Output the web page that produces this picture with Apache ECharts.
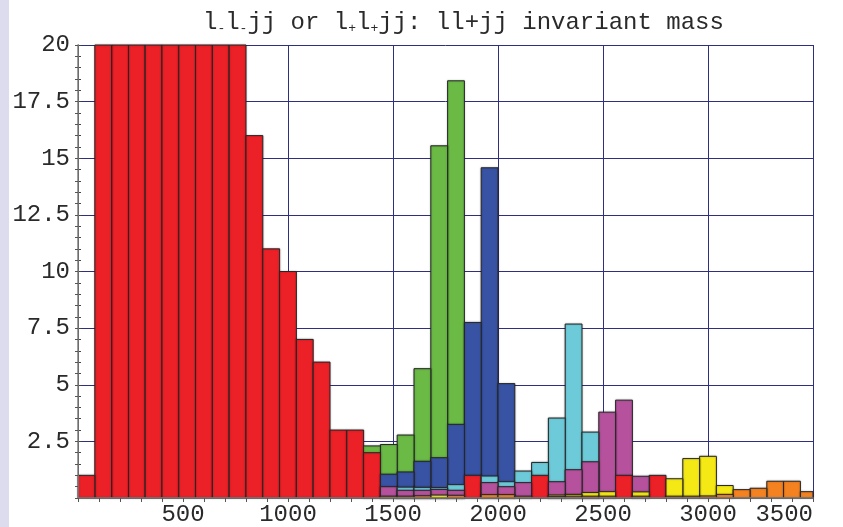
<!DOCTYPE html>
<html>
<head>
<meta charset="utf-8">
<script src="https://cdn.jsdelivr.net/npm/echarts@6/dist/echarts.min.js"></script>
<style>
  html, body { margin: 0; padding: 0; background: #ffffff; }
  #chart { width: 843px; height: 527px; }
</style>
</head>
<body>
<div id="chart"></div>
<script>
// Histogram bins: width 80, starting at 0
const binWidth = 80;
const binStarts = Array.from({ length: 44 }, (_, k) => k * binWidth);

// Counts per bin for each sample (index = bin number)
const background = [1, 38, 61, 70, 66, 55, 44, 34, 27, 21, 16, 11, 10, 7, 6, 3, 3, 2, 0, 0, 0, 0, 0, 1, 0, 0, 0, 1, 0, 0, 0, 0, 1, 0, 1, 0, 0, 0, 0, 0, 0, 0, 0, 0];
const mass1800   = [0, 0, 0, 0, 0, 0, 0, 0, 0, 0, 0, 0, 0, 0, 0, 0, 0, 2.3, 2.36, 2.78, 5.71, 15.55, 18.42, 0, 0, 0, 0, 0, 0, 0, 0, 0, 0, 0, 0, 0, 0, 0, 0, 0, 0, 0, 0, 0];
const mass2000   = [0, 0, 0, 0, 0, 0, 0, 0, 0, 0, 0, 0, 0, 0, 0, 0, 0, 0, 1.05, 1.15, 1.62, 1.78, 3.25, 7.75, 14.58, 5.05, 0, 0, 0, 0, 0, 0, 0, 0, 0, 0, 0, 0, 0, 0, 0, 0, 0, 0];
const mass2400   = [0, 0, 0, 0, 0, 0, 0, 0, 0, 0, 0, 0, 0, 0, 0, 0, 0, 0, 0, 0.48, 0.47, 0.46, 0.59, 0, 0.97, 0.72, 1.19, 1.57, 3.53, 7.68, 2.91, 0, 0, 0, 0, 0, 0, 0, 0, 0, 0, 0, 0, 0];
const mass2600   = [0, 0, 0, 0, 0, 0, 0, 0, 0, 0, 0, 0, 0, 0, 0, 0, 0, 0, 0.5, 0.34, 0.34, 0.38, 0.34, 0, 0.68, 0.5, 0.68, 0, 0.72, 1.25, 1.6, 3.79, 4.32, 0.96, 0, 0, 0, 0, 0, 0, 0, 0, 0, 0];
const mass3000   = [0, 0, 0, 0, 0, 0, 0, 0, 0, 0, 0, 0, 0, 0, 0, 0, 0, 0, 0, 0, 0, 0.13, 0, 0, 0, 0, 0, 0, 0.13, 0.16, 0.24, 0.28, 0, 0.27, 0, 0.85, 1.74, 1.84, 0.55, 0, 0, 0, 0, 0];
const mass3400   = [0, 0, 0, 0, 0, 0, 0, 0, 0, 0, 0, 0, 0, 0, 0, 0, 0, 0, 0.08, 0.08, 0.1, 0, 0.12, 0, 0.15, 0.15, 0.08, 0, 0.06, 0.08, 0.08, 0.08, 0, 0.08, 0, 0.08, 0.08, 0.09, 0.16, 0.37, 0.43, 0.74, 0.74, 0.28];

// Axis ticks
const xTicks = [0, 500, 1000, 1500, 2000, 2500, 3000, 3500];
const yTicks = [0, 2.5, 5, 7.5, 10, 12.5, 15, 17.5, 20];

const samples = [
  { name: 'background', values: background, color: '#ec2027' },
  { name: 'M1800', values: mass1800, color: '#6aba45' },
  { name: 'M2000', values: mass2000, color: '#3853a3' },
  { name: 'M2400', values: mass2400, color: '#6dcbd9' },
  { name: 'M2600', values: mass2600, color: '#b6529d' },
  { name: 'M3000', values: mass3000, color: '#f5e915' },
  { name: 'M3400', values: mass3400, color: '#f58220' }
];

const mono = '"Liberation Mono", "DejaVu Sans Mono", monospace';
const textColor = '#2a2a2a';

// Each bin's bars are overlaid from zero: the shorter one sits in front.
function makeRenderer(color) {
  return function (params, api) {
    const start = api.value(0);
    const v = api.value(1);
    if (!v) return null;
    const p0 = api.coord([start, 0]);
    const p1 = api.coord([start + binWidth, v]);
    const cs = params.coordSys;
    const rect = echarts.graphic.clipRectByRect(
      { x: p0[0], y: p1[1], width: p1[0] - p0[0], height: p0[1] - p1[1] },
      { x: cs.x, y: cs.y, width: cs.width, height: cs.height }
    );
    if (!rect) return null;
    return {
      type: 'rect',
      shape: rect,
      z2: 1000 - v * 10,
      style: {
        fill: color,
        stroke: '#262626',
        lineWidth: 1,
        shadowColor: 'rgba(0,0,0,0.25)',
        shadowBlur: 2
      }
    };
  };
}

const series = samples.map(s => ({
  type: 'custom',
  name: s.name,
  silent: true,
  xAxisIndex: 0,
  yAxisIndex: 0,
  encode: { x: 0, y: 1 },
  data: binStarts.map((b, i) => [b, s.values[i]]),
  renderItem: makeRenderer(s.color)
}));

const chart = echarts.init(document.getElementById('chart'), null, { renderer: 'canvas' });

chart.setOption({
  animation: false,
  backgroundColor: '#ffffff',
  title: {
    text: '{n|l}{s|-}{n|l}{s|-}{n|jj or l}{s|+}{n|l}{s|+}{n|jj: ll+jj invariant mass}',
    left: 198,
    top: 2,
    textStyle: {
      fontWeight: 'normal',
      rich: {
        n: { fontFamily: mono, fontSize: 24, fontWeight: 'normal', color: textColor, verticalAlign: 'bottom', lineHeight: 28 },
        s: { fontFamily: mono, fontSize: 13, fontWeight: 'normal', color: textColor, verticalAlign: 'bottom', lineHeight: 24 }
      }
    }
  },
  graphic: [
    { type: 'rect', left: 0, top: 0, shape: { width: 9, height: 527 }, style: { fill: '#dcdcee' }, silent: true }
  ],
  grid: { left: 78, right: 30, top: 45, bottom: 28, containLabel: false },
  xAxis: [
    {
      type: 'value',
      position: 'bottom',
      min: xTicks[0],
      max: xTicks[xTicks.length - 1],
      interval: 500,
      axisLine: { show: true, lineStyle: { color: '#333333', width: 1 } },
      axisTick: { show: false },
      axisLabel: {
        fontFamily: mono, fontSize: 24, color: textColor, margin: 5,
        alignMaxLabel: 'right',
        formatter: v => (v === 0 ? '' : String(v))
      },
      splitLine: { show: true, lineStyle: { color: '#2f2f80', width: 1 } }
    },
    {
      type: 'value',
      position: 'top',
      min: xTicks[0],
      max: xTicks[xTicks.length - 1],
      interval: 100,
      z: 10,
      axisLine: { show: true, lineStyle: { color: '#808080', width: 1.5 } },
      axisTick: { show: true, inside: true, length: 4, lineStyle: { color: '#555555' } },
      axisLabel: { show: false },
      splitLine: { show: false }
    }
  ],
  yAxis: [
    {
      type: 'value',
      position: 'left',
      min: yTicks[0],
      max: yTicks[yTicks.length - 1],
      interval: 2.5,
      axisLine: { show: true, lineStyle: { color: '#333333', width: 1 } },
      axisTick: { show: true, inside: true, length: 3, lineStyle: { color: '#444444' } },
      minorTick: { show: true, splitNumber: 5, length: 3, lineStyle: { color: '#444444' } },
      axisLabel: {
        fontFamily: mono, fontSize: 24, color: textColor, margin: 8,
        formatter: v => (v === 0 ? '' : String(v))
      },
      splitLine: { show: true, lineStyle: { color: '#2f2f80', width: 1 } }
    },
    {
      type: 'value',
      position: 'right',
      min: yTicks[0],
      max: yTicks[yTicks.length - 1],
      interval: 2.5,
      z: 10,
      axisLine: { show: true, lineStyle: { color: '#808080', width: 1.5 } },
      axisTick: { show: true, inside: true, length: 3, lineStyle: { color: '#555555' } },
      minorTick: { show: true, splitNumber: 5, length: 3, lineStyle: { color: '#555555' } },
      axisLabel: { show: false },
      splitLine: { show: false }
    }
  ],
  series: series
});
</script>
</body>
</html>
